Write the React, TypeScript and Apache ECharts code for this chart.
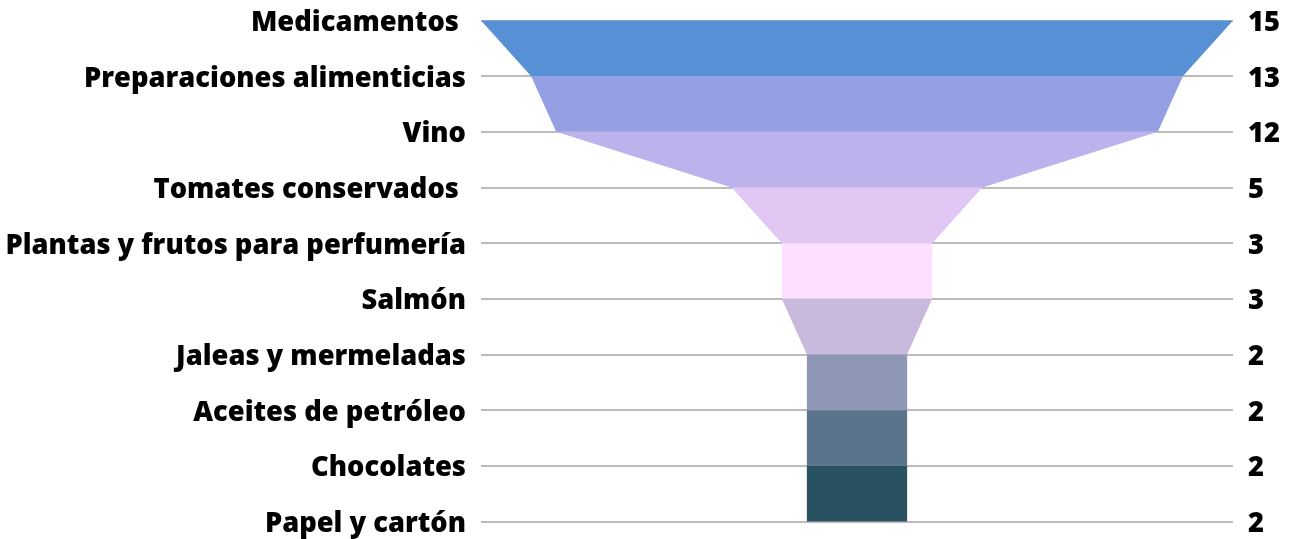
import React, { useEffect, useRef } from "react";
import * as echarts from "echarts";

const categories = [
  "Medicamentos ",
  "Preparaciones alimenticias",
  "Vino",
  "Tomates conservados ",
  "Plantas y frutos para perfumería",
  "Salmón",
  "Jaleas y mermeladas",
  "Aceites de petróleo",
  "Chocolates",
  "Papel y cartón",
];
const values = [15, 13, 12, 5, 3, 3, 2, 2, 2, 2];
const bandColors = [
  "#5890d5",
  "#94a0e3",
  "#bdb3ec",
  "#e1c8f4",
  "#fddfff",
  "#c9b9dc",
  "#8f97b7",
  "#5a748c",
  "#28525f",
];

export default function App() {
  const ref = useRef<HTMLDivElement>(null);
  useEffect(() => {
    if (!ref.current) return;
    const chart = echarts.init(ref.current, null, { renderer: "svg" });
    const bands = values.slice(0, -1).map((v, i) => [i, v, values[i + 1]]);
    const maxV = Math.max(...values);
    const labelStyle = {
      fontFamily: "Open Sans",
      fontWeight: 800,
      fontSize: 27.3,
      color: "#000",
    };
    chart.setOption({
      animation: false,
      grid: { left: 481, right: 58, top: 20.5, bottom: 17.5, containLabel: false },
      xAxis: {
        type: "value",
        min: -maxV,
        max: maxV,
        show: false,
      },
      yAxis: [
        {
          type: "category",
          data: categories,
          inverse: true,
          boundaryGap: false,
          position: "left",
          axisLine: { show: false },
          axisTick: { show: false },
          axisLabel: { ...labelStyle, margin: 15, interval: 0 },
          splitLine: { show: true, interval: 0, lineStyle: { color: "#bcbcbc", width: 2 } },
        },
        {
          type: "category",
          data: categories,
          inverse: true,
          boundaryGap: false,
          position: "right",
          axisLine: { show: false },
          axisTick: { show: false },
          axisLabel: {
            ...labelStyle,
            margin: 15,
            interval: 0,
            formatter: (_v: string, idx: number) => String(values[idx]),
          },
          splitLine: { show: false },
        },
      ],
      series: [
        {
          type: "custom",
          xAxisIndex: 0,
          yAxisIndex: 0,
          data: bands,
          renderItem: (params: any, api: any) => {
            const i = api.value(0);
            const v0 = api.value(1);
            const v1 = api.value(2);
            const pts = [
              api.coord([-v0, i]),
              api.coord([v0, i]),
              api.coord([v1, i + 1]),
              api.coord([-v1, i + 1]),
            ];
            return {
              type: "polygon",
              shape: { points: pts },
              style: { fill: bandColors[params.dataIndex] },
            };
          },
        },
      ],
    });
    return () => chart.dispose();
  }, []);
  return (
    <div
      ref={ref}
      style={{ position: "fixed", left: 0, top: 0, width: 1291, height: 539 }}
    />
  );
}
